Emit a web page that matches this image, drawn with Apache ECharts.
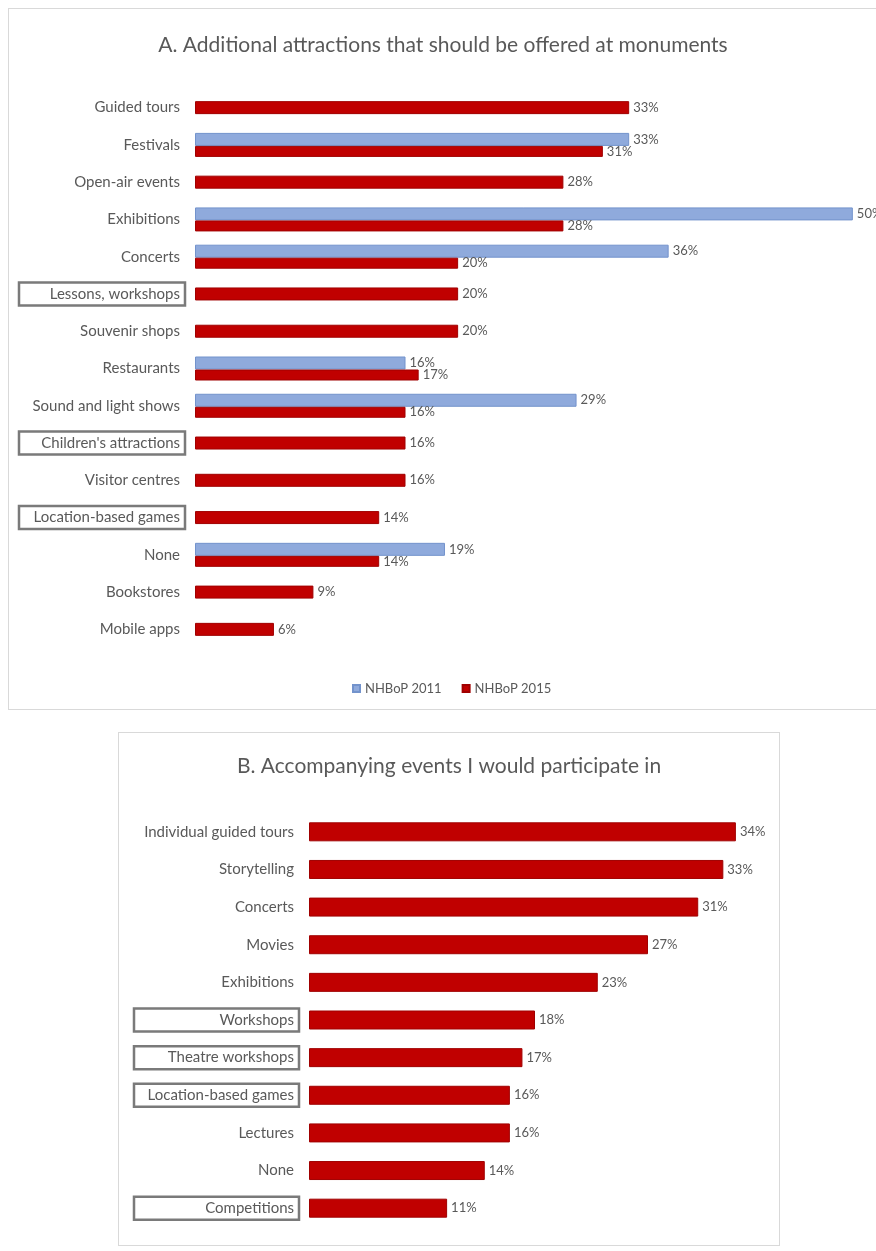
<!DOCTYPE html>
<html>
<head>
<meta charset="utf-8">
<script src="https://cdn.jsdelivr.net/npm/echarts@6/dist/echarts.min.js"></script>
<style>
html,body{margin:0;padding:0;background:#fff;width:876px;height:1251px;overflow:hidden;position:relative;}
#a{position:absolute;left:8px;top:8px;width:868px;height:700px;border:1px solid #d9d9d9;border-right:none;}
#b{position:absolute;left:118px;top:732px;width:660px;height:512px;border:1px solid #d9d9d9;}
</style>
</head>
<body>
<div id="a"></div>
<div id="b"></div>
<script>
// ---- Panel A data ----
const titleA = 'A. Additional attractions that should be offered at monuments';
const categoriesA = ['Guided tours','Festivals','Open-air events','Exhibitions','Concerts','Lessons, workshops','Souvenir shops','Restaurants','Sound and light shows',"Children's attractions",'Visitor centres','Location-based games','None','Bookstores','Mobile apps'];
const values2011 = [null,33,null,50,36,null,null,16,29,null,null,null,19,null,null];
const values2015 = [33,31,28,28,20,20,20,17,16,16,16,14,14,9,6];
const boxedA = ['Lessons, workshops',"Children's attractions",'Location-based games'];
const legendA = ['NHBoP 2011','NHBoP 2015'];

// ---- Panel B data ----
const titleB = 'B. Accompanying events I would participate in';
const categoriesB = ['Individual guided tours','Storytelling','Concerts','Movies','Exhibitions','Workshops','Theatre workshops','Location-based games','Lectures','None','Competitions'];
const valuesB = [34,33,31,27,23,18,17,16,16,14,11];
const boxedB = ['Workshops','Theatre workshops','Location-based games','Competitions'];

// 2015 values split: categories that also have a 2011 bar vs. those with only 2015
const paired2015 = values2015.map((v,i) => values2011[i] == null ? null : v);
const single2015 = values2015.map((v,i) => values2011[i] == null ? v : null);

const FONT = 'Lato, "Liberation Sans", sans-serif';
const GREY = '#595959';
const RED = '#C00000';
const BLUE = '#8FAADC';

function labelFmt(boxed){
  return function(v){ return boxed.indexOf(v) >= 0 ? '{box|' + v + '}' : '{p|' + v + '}'; };
}
function richFor(w){
  return {
    p:{fontFamily:FONT,fontSize:15,color:GREY,padding:[0,5,0,0]},
    box:{fontFamily:FONT,fontSize:15,color:GREY,borderColor:'#7a7a7a',borderWidth:2.5,padding:[4,5,4,4],width:w,align:'right'}
  };
}
const valLabel = {show:true,position:'right',distance:4,formatter:'{c}%',fontFamily:FONT,fontSize:13,color:GREY};

const chartA = echarts.init(document.getElementById('a'));
chartA.setOption({
  animation:false,
  title:{text:titleA,left:'center',top:21,textStyle:{fontFamily:FONT,fontSize:21,fontWeight:'normal',color:GREY}},
  legend:{data:legendA,left:338,top:668,itemWidth:7,itemHeight:7,itemGap:20,icon:'rect',
    textStyle:{fontFamily:FONT,fontSize:13,color:GREY}},
  grid:{left:186,top:80,height:559,right:11},
  xAxis:{type:'value',min:0,max:51,show:false},
  yAxis:[
    {type:'category',data:categoriesA,inverse:true,
     axisLine:{show:false},axisTick:{show:false},
     axisLabel:{margin:10,formatter:labelFmt(boxedA),rich:richFor(157)}},
    {type:'category',data:categoriesA,inverse:true,show:false}
  ],
  series:[
    {name:legendA[0],type:'bar',yAxisIndex:0,data:values2011,barWidth:13,barGap:'0%',
     itemStyle:{color:BLUE,borderColor:'#7393cc',borderWidth:1},label:valLabel},
    {name:legendA[1],type:'bar',yAxisIndex:0,data:paired2015,barWidth:11,barGap:'0%',
     itemStyle:{color:RED,borderColor:'#a00000',borderWidth:1},label:valLabel},
    {name:legendA[1],type:'bar',yAxisIndex:1,data:single2015,barWidth:13,
     itemStyle:{color:RED,borderColor:'#a00000',borderWidth:1},label:valLabel}
  ]
});

const chartB = echarts.init(document.getElementById('b'));
chartB.setOption({
  animation:false,
  title:{text:titleB,left:'center',top:18,textStyle:{fontFamily:FONT,fontSize:21,fontWeight:'normal',color:GREY}},
  grid:{left:190,top:80,height:414,right:18},
  xAxis:{type:'value',min:0,max:36,show:false},
  yAxis:{type:'category',data:categoriesB,inverse:true,
    axisLine:{show:false},axisTick:{show:false},
    axisLabel:{margin:10,formatter:labelFmt(boxedB),rich:richFor(156)}},
  series:[
    {name:'NHBoP 2015 B',type:'bar',data:valuesB,barWidth:19,
     itemStyle:{color:RED,borderColor:'#a00000',borderWidth:1},label:valLabel}
  ]
});
</script>
</body>
</html>
